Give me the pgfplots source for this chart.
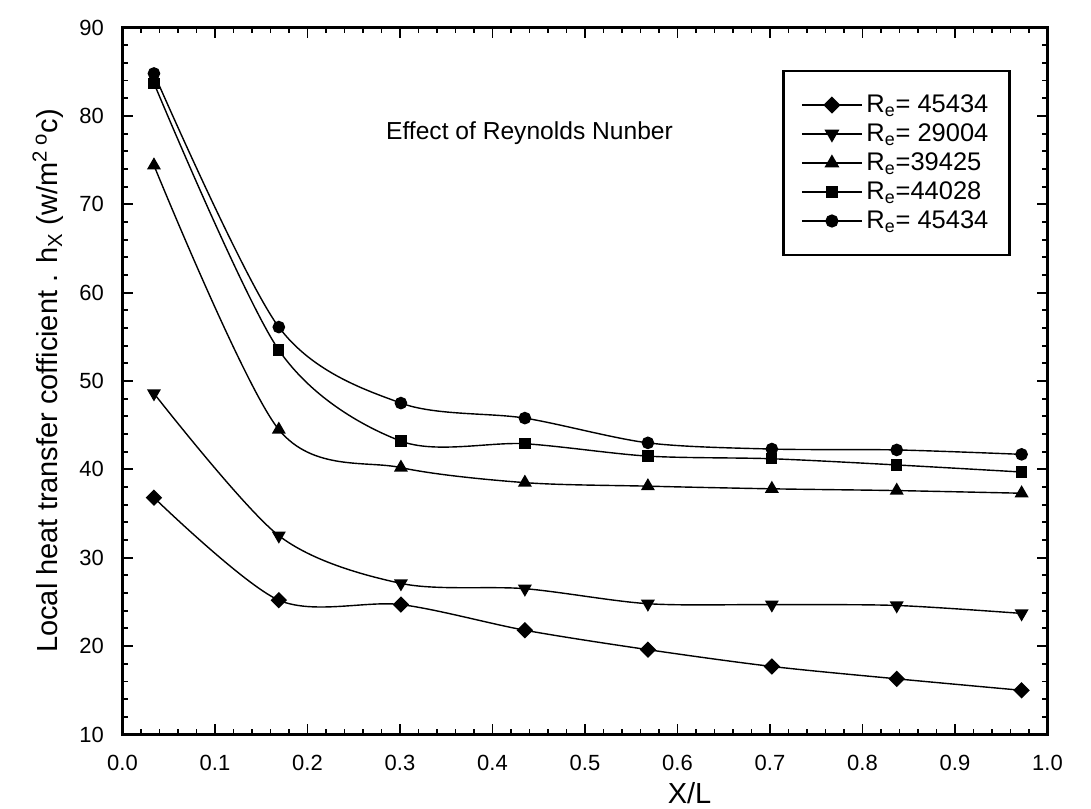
\documentclass[border=0pt]{standalone}
\usepackage{pgfplots}
\pgfplotsset{compat=1.18}
\usepackage{fontspec}
\setmainfont{Liberation Sans}
\pgfplotstableread{
x      d     t     u     s     c
0.034  36.8  48.6  74.4  83.7  84.8
0.169  25.2  32.5  44.5  53.5  56.1
0.301  24.7  27.1  40.2  43.2  47.5
0.435  21.8  26.5  38.5  42.9  45.8
0.568  19.6  24.8  38.1  41.5  43.0
0.702  17.7  24.7  37.8  41.2  42.3
0.837  16.3  24.6  37.6  40.5  42.2
0.972  15.0  23.7  37.3  39.7  41.7
}\datatab
\begin{document}
\fontsize{12.5}{14}\selectfont
\begin{tikzpicture}
\useasboundingbox (-2.45cm,-1.47cm) rectangle (19.37cm,14.69cm);
\begin{axis}[
  scale only axis, width=18.5cm, height=14.14cm,
  xmin=0, xmax=1, ymin=10, ymax=90,
  xtick={0,0.1,0.2,0.3,0.4,0.5,0.6,0.7,0.8,0.9,1.0},
  ytick={10,20,30,40,50,60,70,80,90},
  minor x tick num=4, minor y tick num=4,
  tick align=inside,
  major tick length=0.22cm, minor tick length=0.12cm,
  axis line style={line width=1.6pt},
  every tick/.style={black, line width=1.1pt},
  /pgf/number format/assume math mode=true,
  xticklabel style={/pgf/number format/fixed, /pgf/number format/fixed zerofill, /pgf/number format/precision=1,
     font=\fontsize{12.5}{14}\selectfont, anchor=center, yshift=-0.56cm},
  yticklabel style={font=\fontsize{12.5}{14}\selectfont, anchor=east, xshift=-0.22cm},
  xlabel={X/L},
  ylabel={Local heat transfer cofficient . h\textsubscript{X} (w/m\textsuperscript{2 o}c)},
  every axis x label/.style={at={(axis description cs:0.613,-0.0835)}, anchor=center, font=\fontsize{16.5}{18}\selectfont},
  every axis y label/.style={at={(axis description cs:-0.0805,0.5)}, rotate=90, anchor=center, font=\fontsize{16.5}{18}\selectfont},
  cur/.style={black, line width=0.8pt, smooth, mark options={solid, fill=black}},
  legend style={at={(0.96,0.94)}, anchor=north east, draw=black, line width=1.2pt,
     font=\fontsize{14.5}{15}\selectfont, inner xsep=0.35cm, inner ysep=0.4cm, row sep=0.5pt,
     /tikz/every even column/.append style={column sep=0.2cm}},
  legend cell align=left,
  legend image code/.code={\draw[mark repeat=2,mark phase=2,#1,line width=1.1pt] plot coordinates {(0cm,0cm) (0.6cm,0cm) (1.2cm,0cm)};},
]
\addplot[cur, mark=square*, mark size=2.9pt, mark options={rotate=45}] table[x=x,y=d] {\datatab};
\addlegendentry{R\textsubscript{e}= 45434}
\addplot[cur, mark=triangle*, mark size=3.8pt, mark options={rotate=180}] table[x=x,y=t] {\datatab};
\addlegendentry{R\textsubscript{e}= 29004}
\addplot[cur, mark=triangle*, mark size=3.8pt] table[x=x,y=u] {\datatab};
\addlegendentry{R\textsubscript{e}=39425}
\addplot[cur, mark=square*, mark size=2.8pt] table[x=x,y=s] {\datatab};
\addlegendentry{R\textsubscript{e}=44028}
\addplot[cur, mark=*, mark size=3.2pt] table[x=x,y=c] {\datatab};
\addlegendentry{R\textsubscript{e}= 45434}
\node[font=\fontsize{14}{16}\selectfont] at (axis cs:0.44,78.1) {Effect of Reynolds Nunber};
\end{axis}
\end{tikzpicture}
\end{document}
